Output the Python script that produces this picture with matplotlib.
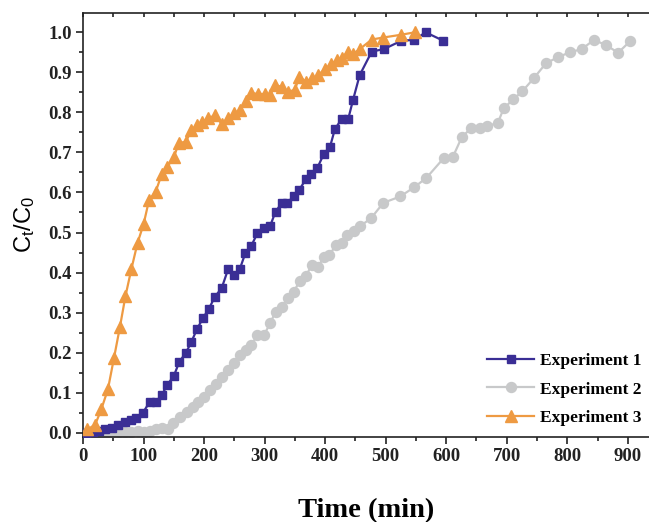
import matplotlib.pyplot as plt
from matplotlib.ticker import MultipleLocator

# Experiment 1
time_1 = [5, 16, 26, 37, 47, 58, 69, 80, 88, 99, 110, 120, 130, 139, 150, 159, 170, 179, 188, 198,
          208, 218, 229, 240, 249, 259, 268, 278, 288, 299, 309, 318, 328, 337, 348, 357, 368, 377,
          387, 398, 408, 416, 427, 438, 446, 457, 477, 497, 526, 547, 566, 595]
ratio_1 = [0.0, 0.002, 0.005, 0.008, 0.011, 0.019, 0.027, 0.032, 0.036, 0.05, 0.077, 0.077, 0.094,
           0.119, 0.142, 0.177, 0.2, 0.227, 0.258, 0.286, 0.31, 0.34, 0.361, 0.41, 0.395, 0.409,
           0.448, 0.467, 0.498, 0.51, 0.516, 0.552, 0.573, 0.573, 0.591, 0.606, 0.633, 0.646,
           0.661, 0.697, 0.714, 0.758, 0.783, 0.783, 0.831, 0.893, 0.952, 0.958, 0.979, 0.981,
           1.0, 0.979]

# Experiment 2
time_2 = [20, 30, 40, 50, 60, 70, 80, 90, 100, 110, 120, 130, 140, 149, 160, 171, 182, 190, 200,
          209, 219, 229, 240, 249, 259, 270, 278, 288, 299, 309, 318, 329, 339, 348, 358, 368, 378,
          388, 398, 407, 418, 427, 436, 447, 458, 476, 496, 524, 547, 567, 596, 611, 626, 641, 656,
          667, 685, 695, 711, 726, 745, 765, 785, 804, 824, 844, 864, 884, 904]
ratio_2 = [0.0, 0.0, 0.001, 0.002, 0.002, 0.002, 0.003, 0.004, 0.003, 0.005, 0.009, 0.011, 0.009,
           0.023, 0.04, 0.052, 0.065, 0.077, 0.09, 0.107, 0.122, 0.14, 0.157, 0.173, 0.194, 0.207,
           0.219, 0.244, 0.244, 0.273, 0.302, 0.315, 0.336, 0.352, 0.379, 0.391, 0.419, 0.413,
           0.44, 0.444, 0.469, 0.473, 0.494, 0.504, 0.516, 0.536, 0.574, 0.59, 0.613, 0.636,
           0.686, 0.689, 0.739, 0.76, 0.76, 0.766, 0.773, 0.81, 0.833, 0.853, 0.886, 0.923, 0.938,
           0.95, 0.958, 0.981, 0.968, 0.949, 0.978]

# Experiment 3
time_3 = [7, 20, 30, 41, 51, 61, 70, 80, 90, 100, 109, 120, 130, 139, 150, 158, 170, 179, 188, 197,
          207, 218, 229, 240, 250, 259, 270, 278, 289, 300, 309, 317, 328, 339, 350, 357, 368, 379,
          388, 400, 409, 419, 428, 438, 446, 457, 477, 496, 526, 548]
ratio_3 = [0.008, 0.02, 0.058, 0.108, 0.186, 0.265, 0.341, 0.41, 0.474, 0.521, 0.581, 0.602, 0.646,
           0.664, 0.688, 0.723, 0.727, 0.756, 0.768, 0.777, 0.785, 0.793, 0.771, 0.787, 0.798,
           0.806, 0.828, 0.848, 0.846, 0.846, 0.843, 0.868, 0.864, 0.852, 0.856, 0.889, 0.877,
           0.885, 0.893, 0.908, 0.92, 0.93, 0.937, 0.952, 0.946, 0.958, 0.982, 0.987, 0.994, 1.0]

serif = 'Liberation Serif'

fig = plt.figure(figsize=(6.49, 5.22), dpi=100)
ax = fig.add_axes([0.128, 0.1634, 0.872, 0.8123])

ax.plot(time_1, ratio_1, color='#3a2e95', lw=1.6, marker='s', ms=6.2, label='Experiment 1', zorder=3)
ax.plot(time_2, ratio_2, color='#c8c9ca', lw=1.6, marker='o', ms=7.2, label='Experiment 2', zorder=2)
ax.plot(time_3, ratio_3, color='#ee9a42', lw=1.6, marker='^', ms=8.2, label='Experiment 3', zorder=4)

ax.set_xlim(0, 935)
ax.set_ylim(-0.01, 1.049)
ax.xaxis.set_major_locator(MultipleLocator(100))
ax.xaxis.set_minor_locator(MultipleLocator(50))
ax.yaxis.set_major_locator(MultipleLocator(0.1))
ax.yaxis.set_minor_locator(MultipleLocator(0.05))
ax.yaxis.set_major_formatter(plt.FormatStrFormatter('%.1f'))

ax.spines['right'].set_visible(False)
for s in ['left', 'bottom', 'top']:
    ax.spines[s].set_linewidth(1.2)
    ax.spines[s].set_color('#222222')

ax.tick_params(which='major', direction='out', length=5, width=1.2, colors='#222222')
ax.tick_params(which='minor', direction='out', length=3, width=1.2, colors='#222222')
ax.tick_params(axis='both', labelsize=13.5, pad=3)
for lab in ax.get_xticklabels() + ax.get_yticklabels():
    lab.set_fontfamily(serif)
    lab.set_fontweight('bold')

# ticks along the top
top = ax.secondary_xaxis('top')
top.xaxis.set_major_locator(MultipleLocator(50))
top.tick_params(direction='in', length=3, width=1.2, labeltop=False, colors='#222222')
top.spines['top'].set_visible(False)

ax.set_xlabel('Time (min)', fontfamily=serif, fontweight='bold', fontsize=20.5, labelpad=24)
ax.set_ylabel('$\\mathregular{C_t/C_0}$', fontfamily='Liberation Sans', fontsize=17, labelpad=8)

leg = ax.legend(loc='lower right', bbox_to_anchor=(1.015, -0.012), frameon=False,
                handlelength=2.7, handletextpad=0.35, labelspacing=0.72,
                prop={'family': serif, 'weight': 'bold', 'size': 12.5})

fig.savefig('out.png', dpi=100)
